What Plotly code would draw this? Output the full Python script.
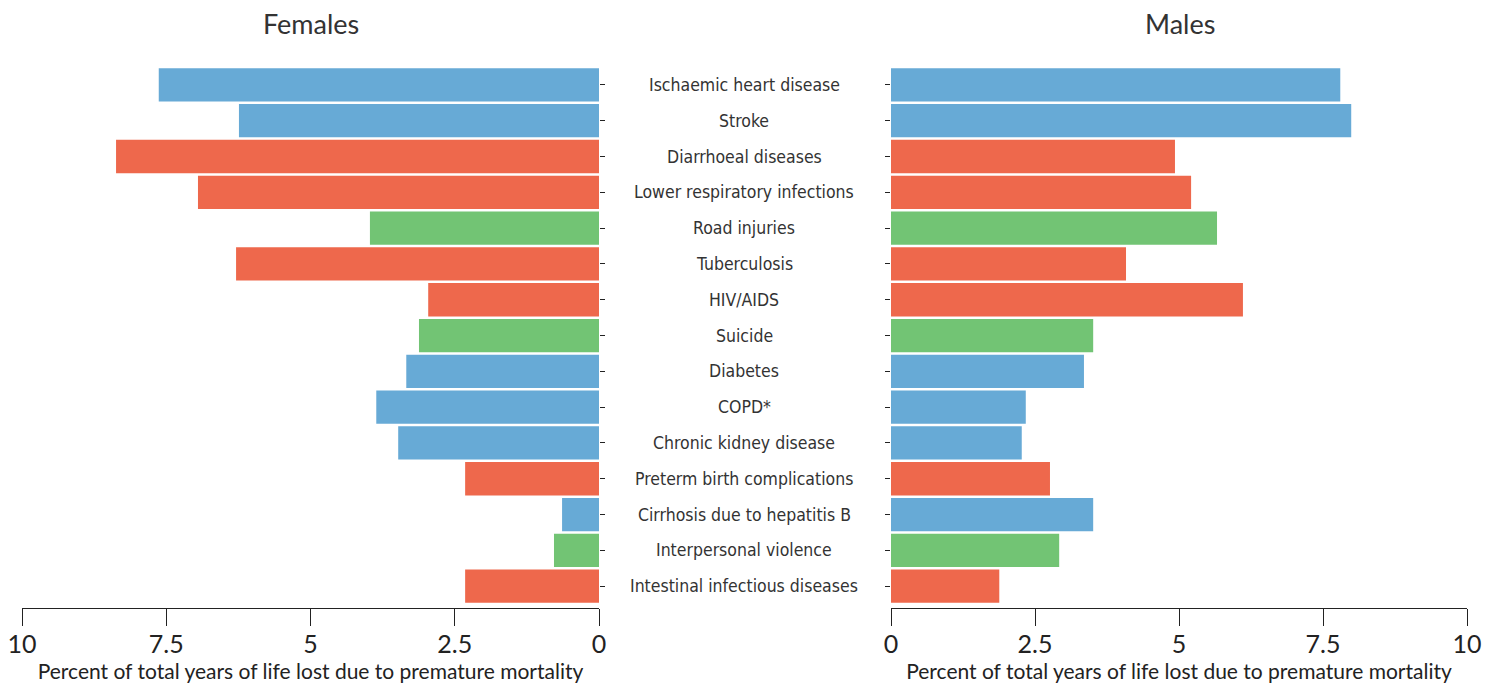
import plotly.graph_objects as go
from plotly.subplots import make_subplots

# =========================
# DATOS
# =========================
causes = [
    "Ischaemic heart disease", "Stroke", "Diarrhoeal diseases",
    "Lower respiratory infections", "Road injuries", "Tuberculosis",
    "HIV/AIDS", "Suicide", "Diabetes", "COPD*", "Chronic kidney disease",
    "Preterm birth complications", "Cirrhosis due to hepatitis B",
    "Interpersonal violence", "Intestinal infectious diseases",
]
groups = ["ncd", "ncd", "com", "com", "inj", "com", "com", "inj", "ncd",
          "ncd", "ncd", "com", "ncd", "inj", "com"]
females = [7.63, 6.24, 8.37, 6.95, 3.97, 6.29, 2.96, 3.12, 3.34, 3.86,
           3.48, 2.32, 0.64, 0.78, 2.32]
males = [7.80, 7.99, 4.93, 5.21, 5.66, 4.08, 6.11, 3.51, 3.35, 2.34,
         2.27, 2.76, 3.51, 2.92, 1.88]
tick_vals = [0, 2.5, 5, 7.5, 10]
tick_text = ["0", "2.5", "5", "7.5", "10"]

group_colors = {"ncd": "#67aad6", "com": "#ee684c", "inj": "#72c474"}
colors = [group_colors[g] for g in groups]

axis_title = "Percent of total years of life lost due to premature mortality"
tick_font = dict(family="Lato", size=25, color="#222")
label_font = dict(family="Liberation Sans Narrow, DejaVu Sans Condensed", size=17.5, color="#333")

# =========================
# FIGURA
# =========================
# la página pone un margen de 8 px alrededor del gráfico
OFF = 8
W, H = 1501 - OFF, 690 - OFF
M_T = 67 - OFF
M_B = H - (608 - OFF)


def px_x(x):
    return (x - OFF) / W


fig = make_subplots(rows=1, cols=2, shared_yaxes=False)

fig.add_trace(go.Bar(y=causes, x=females, orientation="h",
                     marker=dict(color=colors, line_width=0),
                     showlegend=False), row=1, col=1)
fig.add_trace(go.Bar(y=causes, x=males, orientation="h",
                     marker=dict(color=colors, line_width=0),
                     showlegend=False), row=1, col=2)

common_x = dict(
    tickvals=tick_vals, ticktext=tick_text, tickfont=tick_font,
    showline=True, linecolor="#222", linewidth=1.3,
    ticks="outside", ticklen=17, tickcolor="#222", tickwidth=1.3,
    ticklabeloverflow="allow", ticklabelstandoff=-3,
    showgrid=False, zeroline=False, automargin=False,
    title=dict(text=axis_title, font=dict(family="Lato", size=21, color="#222"),
               standoff=0),
)
fig.update_xaxes(range=[10, 0], domain=[px_x(22), px_x(599)], **common_x, row=1, col=1)
fig.update_xaxes(range=[0, 10], domain=[px_x(891), px_x(1467)], **common_x, row=1, col=2)

y_range = [len(causes) - 0.5 + 0.11, -0.5]
common_y = dict(range=y_range, showticklabels=False, showgrid=False,
                zeroline=False, showline=False, ticks="outside", ticklen=5,
                tickcolor="#222", tickwidth=1.3, automargin=False)
fig.update_yaxes(side="right", **common_y, row=1, col=1)
fig.update_yaxes(side="left", **common_y, row=1, col=2)

# etiquetas de categorías en el centro
for c in causes:
    fig.add_annotation(x=px_x(744), y=c, xref="paper", yref="y", text=c,
                       showarrow=False, xanchor="center", font=label_font)

plot_h = H - M_T - M_B
for txt, xc in [("Females", 311), ("Males", 1180)]:
    fig.add_annotation(x=px_x(xc), y=1 + (67 - 23) / plot_h, xref="paper", yref="paper",
                       text=txt, showarrow=False, xanchor="center", yanchor="middle",
                       borderpad=0, font=dict(family="Lato", size=27, color="#333"))

fig.update_layout(
    width=W, height=H,
    margin=dict(l=0, r=0, t=M_T, b=M_B, autoexpand=False),
    bargap=0.07,
    plot_bgcolor="white", paper_bgcolor="white",
)

fig.write_html("out.html")
